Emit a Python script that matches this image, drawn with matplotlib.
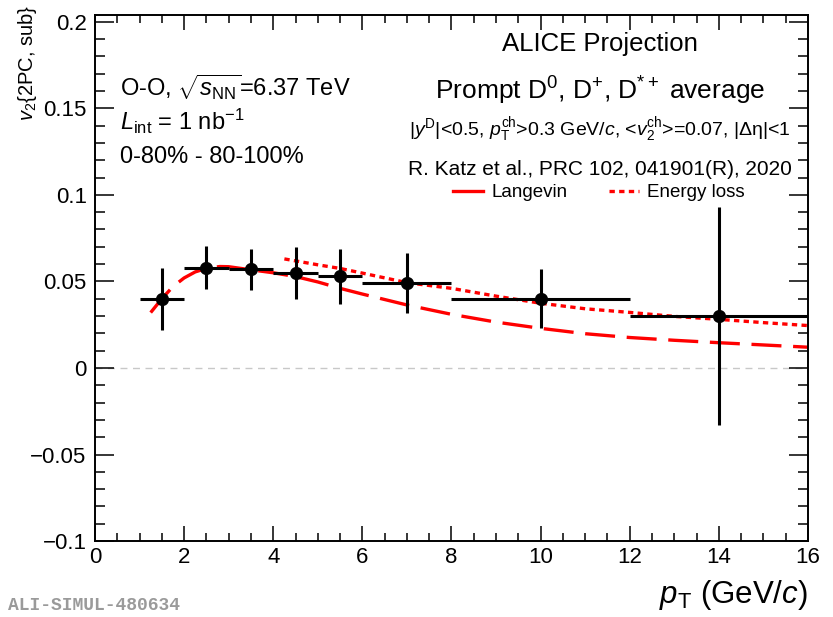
import matplotlib
matplotlib.use("Agg")
import matplotlib.pyplot as plt
from matplotlib.lines import Line2D
from matplotlib.ticker import MultipleLocator

plt.rcParams['font.family'] = ['Liberation Sans', 'DejaVu Sans']
plt.rcParams['mathtext.fontset'] = 'custom'
plt.rcParams['mathtext.rm'] = 'Liberation Sans'
plt.rcParams['mathtext.it'] = 'Liberation Sans:italic'
plt.rcParams['mathtext.bf'] = 'Liberation Sans:bold'

# ---- data ----
pt_center = [1.5, 2.5, 3.5, 4.5, 5.5, 7.0, 10.0, 14.0]
pt_halfwidth = [0.5, 0.5, 0.5, 0.5, 0.5, 1.0, 2.0, 2.0]
v2 = [0.040, 0.058, 0.057, 0.055, 0.053, 0.049, 0.040, 0.030]
v2_err = [0.018, 0.0125, 0.012, 0.015, 0.016, 0.0175, 0.017, 0.063]

langevin_pt = [1.25, 1.5, 1.75, 2.0, 2.25, 2.5, 2.8, 3.0, 3.5, 4.0, 4.5, 5.0,
               5.5, 6.0, 7.0, 8.0, 9.0, 10.0, 11.0, 12.0, 13.0, 14.0, 15.0, 16.0]
langevin_v2 = [0.032, 0.040, 0.047, 0.052, 0.0555, 0.0575, 0.0586, 0.0585,
               0.0567, 0.0550, 0.0528, 0.0497, 0.046, 0.0427, 0.0364, 0.031,
               0.0265, 0.0229, 0.0198, 0.0176, 0.016, 0.0146, 0.0133, 0.012]

eloss_pt = [4.25, 5.0, 5.5, 6.0, 7.0, 8.0, 9.0, 10.0, 11.0, 12.0, 13.0, 14.0, 15.0, 16.0]
eloss_v2 = [0.063, 0.0596, 0.0575, 0.0548, 0.0493, 0.046, 0.0415, 0.0374,
            0.0342, 0.0321, 0.0298, 0.0281, 0.0262, 0.0245]

RED = '#ff0000'

fig = plt.figure(figsize=(8.33, 6.17), dpi=100)
ax = fig.add_axes([0.114, 0.123, 0.856, 0.853])

ax.axhline(0, color='#c8c8c8', lw=1.0, ls=(0, (5, 4)), zorder=1)

ax.plot(langevin_pt, langevin_v2, color=RED, lw=2.4, ls=(0, (9, 3.5)), zorder=2)
ax.plot(eloss_pt, eloss_v2, color=RED, lw=2.4, ls=(0, (1.6, 1.3)), zorder=2)

ax.errorbar(pt_center, v2, xerr=pt_halfwidth, yerr=v2_err, fmt='o', color='black',
            ms=8.5, elinewidth=2.2, capsize=0, zorder=3)

ax.set_xlim(0, 16)
ax.set_ylim(-0.1, 0.204)
ax.xaxis.set_major_locator(MultipleLocator(2))
ax.xaxis.set_minor_locator(MultipleLocator(0.5))
ax.yaxis.set_minor_locator(MultipleLocator(0.01))
ax.set_yticks([-0.1, -0.05, 0, 0.05, 0.1, 0.15, 0.2])
ax.set_yticklabels(['\u22120.1', '\u22120.05', '0', '0.05', '0.1', '0.15', '0.2'])

for s in ax.spines.values():
    s.set_linewidth(1.4)
ax.tick_params(axis='both', which='both', direction='in', top=True, right=True, width=1.1)
ax.tick_params(axis='y', which='major', length=14, labelsize=16, pad=6)
ax.tick_params(axis='y', which='minor', length=7)
ax.tick_params(axis='x', which='major', length=11, labelsize=16, pad=4)
ax.tick_params(axis='x', which='minor', length=6)

ax.set_ylabel('$v_2${2PC, sub}', fontsize=14.5, loc='top')
ax.yaxis.set_label_coords(-0.078, 1.02)
ax.set_xlabel('$p_{\\rm T}$ (GeV/$c$)', fontsize=22.5, ha='right', va='center')
ax.xaxis.set_label_coords(1.0, -0.103)

# text annotations
ax.text(0.708, 0.944, 'ALICE Projection', transform=ax.transAxes, ha='center', va='center', fontsize=18.5)
ax.text(0.708, 0.856, 'Prompt D$^0$, D$^{+}$, D$^{*+}$ average', transform=ax.transAxes,
        ha='center', va='center', fontsize=19)
ax.text(0.708, 0.782, '|$y^{\\rm D}$|<0.5, $p_{\\rm T}^{\\rm ch}$>0.3 GeV/$c$, <$v_2^{\\rm ch}$>=0.07, |\u0394\u03b7|<1',
        transform=ax.transAxes, ha='center', va='center', fontsize=14)
ax.text(0.708, 0.707, 'R. Katz et al., PRC 102, 041901(R), 2020', transform=ax.transAxes,
        ha='center', va='center', fontsize=15)

ax.text(0.035, 0.862, 'O-O, $\\sqrt{s_{\\rm NN}}$=6.37 TeV', transform=ax.transAxes,
        ha='left', va='center', fontsize=17)
ax.text(0.035, 0.797, '$L_{\\rm int}$ = 1 nb$^{-1}$', transform=ax.transAxes,
        ha='left', va='center', fontsize=17)
ax.text(0.035, 0.73, '0-80% - 80-100%', transform=ax.transAxes,
        ha='left', va='center', fontsize=17)

handles = [Line2D([], [], color=RED, lw=2.4, ls='-'),
           Line2D([], [], color=RED, lw=2.4, ls=(0, (1.6, 1.3)))]
ax.legend(handles, ['Langevin', 'Energy loss'], ncol=2, frameon=False, fontsize=13.5,
          loc='center', bbox_to_anchor=(0.707, 0.662), handlelength=1.6,
          columnspacing=2.2, handletextpad=0.45, borderpad=0)

fig.text(0.01, 0.005, 'ALI-SIMUL-480634', fontsize=13, color='#9a9a9a',
         family=['Liberation Mono', 'DejaVu Sans Mono'], weight='bold', ha='left', va='bottom')

fig.savefig('out.png', dpi=100)
